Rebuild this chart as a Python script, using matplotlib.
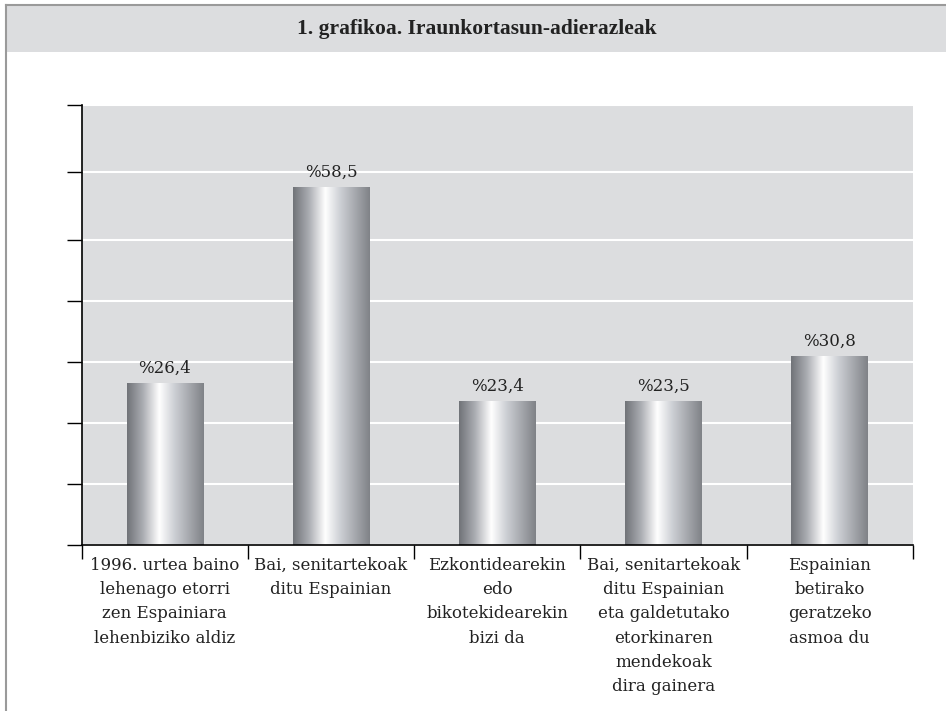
import matplotlib
matplotlib.use("Agg")
import matplotlib.pyplot as plt
from matplotlib.colors import LinearSegmentedColormap
from matplotlib.patches import Rectangle
from matplotlib.lines import Line2D
import numpy as np

# datuak
title = "1. grafikoa. Iraunkortasun-adierazleak"
categories = [
    "1996. urtea baino\nlehenago etorri\nzen Espainiara\nlehenbiziko aldiz",
    "Bai, senitartekoak\nditu Espainian",
    "Ezkontidearekin\nedo\nbikotekidearekin\nbizi da",
    "Bai, senitartekoak\nditu Espainian\neta galdetutako\netorkinaren\nmendekoak\ndira gainera",
    "Espainian\nbetirako\ngeratzeko\nasmoa du",
]
values = [26.4, 58.5, 23.4, 23.5, 30.8]
value_labels = ["%26,4", "%58,5", "%23,4", "%23,5", "%30,8"]
ytick_pos = [0, 10, 20, 30, 40, 50, 61, 72]

bg = "#dcdddf"
serif = ["DejaVu Serif"]

fig = plt.figure(figsize=(9.46, 7.11), dpi=100)

# goiburuko banda eta markoa
fig.patches.append(Rectangle((6 / 946, 1 - 52 / 711), 1, 47 / 711,
                             transform=fig.transFigure, facecolor=bg,
                             edgecolor="none", zorder=0))
fig.lines.append(Line2D([6 / 946, 1], [1 - 5 / 711, 1 - 5 / 711],
                        transform=fig.transFigure, color="#9a9a9a", lw=1.5))
fig.lines.append(Line2D([6 / 946, 6 / 946], [0, 1 - 5 / 711],
                        transform=fig.transFigure, color="#9a9a9a", lw=1.5))
fig.text(0.504, 1 - 29 / 711, title, ha="center", va="center",
         fontsize=15.5, fontweight="bold", family=["Liberation Serif"],
         color="#222222")

ax = fig.add_axes([81.7 / 946, 165.7 / 711, 831 / 946, 440.3 / 711])
ax.set_facecolor(bg)

x = np.arange(len(values))
bars = ax.bar(x, values, width=0.46, color="none", edgecolor="none", zorder=2)

# barren gradientea
cmap = LinearSegmentedColormap.from_list("metal", [
    (0.0, (0.44, 0.45, 0.47)),
    (0.2, (0.66, 0.67, 0.69)),
    (0.42, (1.0, 1.0, 1.0)),
    (0.62, (0.80, 0.81, 0.83)),
    (1.0, (0.50, 0.51, 0.53)),
])
grad = np.linspace(0, 1, 256).reshape(1, -1)
for b in bars:
    x0 = b.get_x()
    ax.imshow(grad, cmap=cmap, aspect="auto", zorder=2,
              extent=[x0, x0 + b.get_width(), 0, b.get_height()])

for b, lab in zip(bars, value_labels):
    ax.annotate(lab, (b.get_x() + b.get_width() / 2, b.get_height()),
                xytext=(0, 5), textcoords="offset points", ha="center",
                va="bottom", fontsize=12, family=serif, color="#222222")

ax.set_xlim(-0.5, len(values) - 0.5)
ax.set_ylim(0, ytick_pos[-1])

ax.set_yticks(ytick_pos)
ax.set_yticklabels([])
ax.yaxis.grid(True, color="white", lw=1.5)
ax.set_axisbelow(True)
ax.tick_params(axis="y", length=11, width=1, color="black", direction="out")

ax.set_xticks(x)
ax.set_xticklabels(categories, fontsize=12, family=serif, color="#222222",
                   linespacing=1.55)
ax.set_xticks(np.arange(len(values) + 1) - 0.5, minor=True)
ax.tick_params(axis="x", which="major", length=0, pad=8.5)
ax.tick_params(axis="x", which="minor", length=10, width=1, color="black")

for s in ["top", "right"]:
    ax.spines[s].set_visible(False)
ax.spines["left"].set_linewidth(1.2)
ax.spines["bottom"].set_linewidth(1.2)

fig.savefig("out.png", dpi=100)
